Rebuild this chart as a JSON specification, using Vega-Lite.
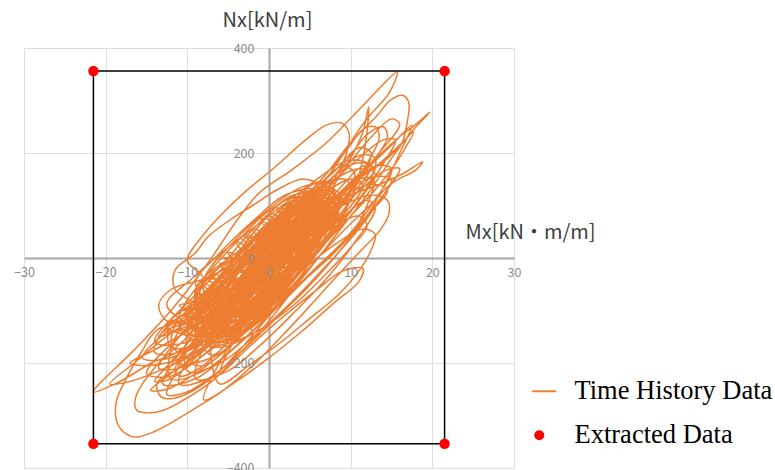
{
"$schema": "https://vega.github.io/schema/vega-lite/v6.json",
"width": 490,
"height": 420,
"autosize": {"type": "none"},
"padding": {"left": 24, "top": 48, "right": 261, "bottom": 2},
"background": "white",
"config": {"view": {"stroke": null},
"legend": {"orient": "none", "legendX": 502, "legendY": 330, "title": null, "labelFont": "Liberation Serif", "labelFontSize": 26.5, "labelColor": "black", "labelLimit": 0, "symbolSize": 100, "labelOffset": 22, "rowPadding": 17, "padding": 0, "symbolStrokeWidth": 0, "symbolOpacity": 1}},
"datasets": {
"box": [{"x": -21.5, "y": -354, "x2": 21.5, "y2": 356}],
"ex": [{"x": -21.5, "y": 356, "series": "Extracted Data"}, {"x": 21.5, "y": 356, "series": "Extracted Data"}, {"x": -21.5, "y": -354, "series": "Extracted Data"}, {"x": 21.5, "y": -354, "series": "Extracted Data"}],
"th": [
{"x":0,"y":10},{"x":3,"y":60},{"x":5,"y":100},{"x":3,"y":110},{"x":0,"y":70},{"x":-3,"y":20},{"x":-6,"y":-40},{"x":-8,"y":-90},{"x":-9,"y":-130},{"x":-7,"y":-135},{"x":-4,"y":-90},{"x":-1,"y":-40},{"x":2,"y":20},{"x":5,"y":70},{"x":7,"y":110},{"x":8,"y":140},{"x":6,"y":145},{"x":3,"y":110},{"x":0,"y":60},{"x":-3,"y":0},{"x":-6,"y":-60},{"x":-9,"y":-120},
{"x":-9,"y":-140},{"x":-5,"y":-110},{"x":0,"y":-30},{"x":5,"y":60},{"x":8,"y":130},{"x":6,"y":135},{"x":1,"y":80},{"x":-4,"y":0},{"x":-8,"y":-80},
{"x":-10.4,"y":-170},{"x":-14.4,"y":-200},{"x":-18.6,"y":-238},{"x":-21.5,"y":-255},{"x":-16.5,"y":-175},{"x":-12,"y":-100},{"x":-7.5,"y":-10},{"x":-4,"y":70},{"x":-1.2,"y":124},{"x":2.8,"y":168},{"x":7,"y":219},{"x":11,"y":282},{"x":15.7,"y":354},{"x":14.7,"y":314},{"x":12.6,"y":276},{"x":11,"y":244},{"x":9,"y":195},{"x":6.5,"y":140},{"x":4,"y":90},{"x":1,"y":30},{"x":-2,"y":-30},{"x":-5,"y":-80},
{"x":-10,"y":-120},{"x":-6,"y":-150},{"x":-9.5,"y":-90},{"x":-3,"y":-125},{"x":-8,"y":-50},{"x":-1,"y":-95},{"x":-6,"y":-10},{"x":1,"y":-60},{"x":-4,"y":30},{"x":3,"y":-25},{"x":-2,"y":55},{"x":5,"y":10},{"x":0,"y":85},{"x":6.5,"y":40},{"x":2,"y":105},{"x":8,"y":75},{"x":4.5,"y":125},{"x":8.5,"y":110},{"x":7,"y":135},
{"x":-6,"y":-150},{"x":-2,"y":-115},{"x":2,"y":-50},{"x":5,"y":20},{"x":7,"y":80},{"x":5.5,"y":100},{"x":2,"y":60},{"x":-1.5,"y":0},{"x":-4.5,"y":-60},{"x":-7,"y":-120},
{"x":-10,"y":-120},{"x":-6,"y":-100},{"x":-1,"y":-40},{"x":4,"y":40},{"x":7,"y":100},{"x":5,"y":110},{"x":0,"y":60},{"x":-5,"y":-10},{"x":-9,"y":-70},
{"x":-14,"y":-160},{"x":-10,"y":-160},{"x":-5,"y":-100},{"x":0,"y":-30},{"x":5,"y":40},{"x":9.5,"y":110},{"x":12.5,"y":175},{"x":10.5,"y":180},{"x":6,"y":130},{"x":1,"y":60},{"x":-4,"y":-10},{"x":-9,"y":-80},{"x":-12.5,"y":-130},
{"x":-7,"y":-150},{"x":-3,"y":-120},{"x":0,"y":-60},{"x":3,"y":0},{"x":6,"y":80},{"x":4,"y":100},{"x":0,"y":40},{"x":-3,"y":-30},{"x":-6,"y":-100},
{"x":-7.5,"y":-140},{"x":-4,"y":-120},{"x":-0.5,"y":-70},{"x":2.5,"y":-10},{"x":5,"y":50},{"x":6,"y":90},{"x":3.5,"y":90},{"x":0.5,"y":40},{"x":-2.5,"y":-20},{"x":-5.5,"y":-90},
{"x":-7,"y":-155},{"x":-3,"y":-125},{"x":1,"y":-60},{"x":5,"y":20},{"x":8.5,"y":90},{"x":7,"y":120},{"x":3,"y":90},{"x":-2,"y":20},{"x":-6,"y":-60},{"x":-9,"y":-110},
{"x":-13.7,"y":-137},{"x":-15.7,"y":-181},{"x":-17.4,"y":-227},{"x":-18.7,"y":-274},{"x":-18.6,"y":-314},{"x":-17.5,"y":-335},{"x":-16.2,"y":-341},{"x":-14.4,"y":-333},{"x":-12,"y":-314},{"x":-8.8,"y":-284},{"x":-5.5,"y":-251},{"x":-2,"y":-205},{"x":1.5,"y":-150},{"x":4.8,"y":-95},{"x":8,"y":-40},{"x":11,"y":10},{"x":13.6,"y":53},{"x":14.7,"y":85},{"x":14.5,"y":110},{"x":12.5,"y":120},{"x":9,"y":100},{"x":5,"y":60},{"x":1,"y":10},{"x":-3,"y":-40},{"x":-6,"y":-90},
{"x":-5,"y":-130},{"x":-1.5,"y":-100},{"x":1.5,"y":-45},{"x":4.5,"y":15},{"x":6.5,"y":75},{"x":5,"y":90},{"x":2,"y":45},{"x":-1,"y":-15},{"x":-4,"y":-75},{"x":-6.5,"y":-130},
{"x":8.5,"y":95},{"x":3,"y":115},{"x":7.5,"y":55},{"x":1,"y":95},{"x":6,"y":20},{"x":-1,"y":70},{"x":4.5,"y":-5},{"x":-3,"y":45},{"x":2.5,"y":-40},{"x":-5,"y":10},{"x":0.5,"y":-80},{"x":-7,"y":-30},{"x":-2,"y":-110},{"x":-8.5,"y":-70},{"x":-5,"y":-140},{"x":-10,"y":-110},{"x":-8,"y":-150},
{"x":-8,"y":-130},{"x":-4,"y":-110},{"x":-1,"y":-60},{"x":2,"y":0},{"x":5,"y":60},{"x":6.5,"y":100},{"x":4,"y":95},{"x":0,"y":40},{"x":-3.5,"y":-20},{"x":-6.5,"y":-80},
{"x":-10.5,"y":-100},{"x":-7,"y":-90},{"x":-3,"y":-40},{"x":2,"y":30},{"x":6,"y":100},{"x":7.5,"y":140},{"x":4,"y":135},{"x":-1,"y":80},{"x":-5,"y":20},{"x":-8,"y":-40},
{"x":-10,"y":-215},{"x":-6,"y":-200},{"x":-1.5,"y":-145},{"x":3,"y":-80},{"x":7,"y":-15},{"x":11,"y":55},{"x":14,"y":120},{"x":16,"y":170},{"x":14,"y":165},{"x":10.5,"y":120},{"x":6,"y":60},{"x":1.5,"y":0},{"x":-3,"y":-70},{"x":-7,"y":-140},
{"x":-12,"y":-120},{"x":-12,"y":-170},{"x":-8,"y":-160},{"x":-3,"y":-100},{"x":2,"y":-30},{"x":7,"y":40},{"x":11,"y":110},{"x":13,"y":160},{"x":11,"y":170},{"x":6,"y":130},{"x":1,"y":70},{"x":-4,"y":10},{"x":-9,"y":-60},
{"x":-8,"y":-120},{"x":-4.5,"y":-105},{"x":-1.5,"y":-55},{"x":1.5,"y":5},{"x":4,"y":60},{"x":5,"y":100},{"x":2.5,"y":95},{"x":-0.5,"y":45},{"x":-3.5,"y":-15},{"x":-6.5,"y":-75},
{"x":-6,"y":-160},{"x":-2,"y":-130},{"x":1,"y":-80},{"x":4,"y":-20},{"x":6,"y":40},{"x":7,"y":90},{"x":5,"y":80},{"x":2,"y":30},{"x":-1.5,"y":-30},{"x":-4.5,"y":-90},
{"x":-8,"y":-145},{"x":-4,"y":-130},{"x":0,"y":-80},{"x":4,"y":-10},{"x":7,"y":60},{"x":9,"y":110},{"x":8,"y":130},{"x":4,"y":110},{"x":0,"y":50},{"x":-4,"y":-20},{"x":-7.5,"y":-90},
{"x":-10,"y":-150},{"x":-13.5,"y":-200},{"x":-16.3,"y":-264},{"x":-16.2,"y":-290},{"x":-14.9,"y":-295},{"x":-12.9,"y":-290},{"x":-10.4,"y":-270},{"x":-7,"y":-235},{"x":-3.5,"y":-180},{"x":0,"y":-120},{"x":3,"y":-60},{"x":6,"y":0},{"x":9,"y":60},{"x":12,"y":120},{"x":15.1,"y":192},{"x":16.3,"y":219},{"x":16.9,"y":257},{"x":17.1,"y":297},{"x":16.3,"y":310},{"x":14.9,"y":301},{"x":13.1,"y":269},{"x":10,"y":220},{"x":7,"y":160},{"x":4,"y":110},{"x":1,"y":60},{"x":-2,"y":10},{"x":-5,"y":-40},
{"x":-9,"y":-140},{"x":-4.5,"y":-135},{"x":-9.5,"y":-105},{"x":-2,"y":-110},{"x":-7.5,"y":-65},{"x":0,"y":-75},{"x":-5,"y":-25},{"x":2,"y":-40},{"x":-3,"y":15},{"x":4,"y":0},{"x":-1,"y":50},{"x":6,"y":30},{"x":1,"y":90},{"x":7.5,"y":60},{"x":3,"y":110},{"x":8.5,"y":95},{"x":5.5,"y":130},
{"x":-6.5,"y":-160},{"x":-3,"y":-135},{"x":0.5,"y":-80},{"x":3.5,"y":-20},{"x":6,"y":40},{"x":7.5,"y":95},{"x":5.5,"y":105},{"x":2.5,"y":60},{"x":-1,"y":0},{"x":-4,"y":-60},{"x":-6.5,"y":-115},
{"x":-7.5,"y":-110},{"x":-4,"y":-100},{"x":-1,"y":-50},{"x":2,"y":10},{"x":4.5,"y":70},{"x":5,"y":110},{"x":2,"y":100},{"x":-1,"y":50},{"x":-4,"y":-10},{"x":-6.5,"y":-60},
{"x":-15.5,"y":-190},{"x":-12,"y":-190},{"x":-7.5,"y":-145},{"x":-3,"y":-85},{"x":1.5,"y":-20},{"x":6,"y":50},{"x":10,"y":125},{"x":12.5,"y":200},{"x":11,"y":210},{"x":8,"y":165},{"x":4,"y":110},{"x":-0.5,"y":45},{"x":-5,"y":-25},{"x":-10,"y":-100},{"x":-13.5,"y":-150},
{"x":-10,"y":-130},{"x":-6,"y":-115},{"x":-2,"y":-60},{"x":2,"y":10},{"x":5,"y":80},{"x":6,"y":120},{"x":3,"y":120},{"x":-1,"y":70},{"x":-5,"y":0},{"x":-8.5,"y":-70},
{"x":-4.5,"y":-120},{"x":-1,"y":-90},{"x":2,"y":-35},{"x":5,"y":25},{"x":6.5,"y":60},{"x":5,"y":75},{"x":2,"y":35},{"x":-1,"y":-25},{"x":-3.5,"y":-80},
{"x":-13,"y":-140},{"x":-9,"y":-130},{"x":-4,"y":-80},{"x":1,"y":-10},{"x":6,"y":60},{"x":10,"y":130},{"x":12,"y":180},{"x":9.5,"y":185},{"x":5,"y":140},{"x":0,"y":80},{"x":-5,"y":20},{"x":-9.5,"y":-40},{"x":-12.5,"y":-90},
{"x":-5,"y":-150},{"x":-1.5,"y":-120},{"x":2,"y":-60},{"x":5,"y":0},{"x":7,"y":50},{"x":6,"y":70},{"x":3,"y":30},{"x":-0.5,"y":-30},{"x":-3.5,"y":-90},
{"x":-7,"y":-130},{"x":-3.5,"y":-115},{"x":0,"y":-65},{"x":3,"y":-5},{"x":5.5,"y":55},{"x":6.5,"y":95},{"x":4,"y":100},{"x":1,"y":55},{"x":-2,"y":-5},{"x":-5,"y":-70},
{"x":-9,"y":-90},{"x":-5,"y":-80},{"x":-1,"y":-20},{"x":3,"y":50},{"x":6.5,"y":110},{"x":4.5,"y":125},{"x":0,"y":90},{"x":-4,"y":30},{"x":-7.5,"y":-30},{"x":-10,"y":-80},
{"x":-11,"y":-110},{"x":-12,"y":-160},{"x":-11,"y":-180},{"x":-8,"y":-160},{"x":-5,"y":-110},{"x":-2,"y":-50},{"x":1,"y":10},{"x":5,"y":70},{"x":9,"y":130},{"x":13.1,"y":190},{"x":15.9,"y":230},{"x":18,"y":255},{"x":19.7,"y":278},{"x":18,"y":250},{"x":15.9,"y":211},{"x":14.3,"y":187},{"x":11,"y":150},{"x":8,"y":110},{"x":5,"y":60},{"x":2,"y":10},{"x":-1,"y":-40},{"x":-4,"y":-100},
{"x":-8.5,"y":-135},{"x":-5,"y":-125},{"x":-2,"y":-80},{"x":1,"y":-20},{"x":4,"y":45},{"x":5.5,"y":85},{"x":3,"y":85},{"x":0,"y":35},{"x":-3,"y":-25},{"x":-6,"y":-85},
{"x":-13,"y":-240},{"x":-9,"y":-230},{"x":-4.5,"y":-175},{"x":0,"y":-110},{"x":4.5,"y":-40},{"x":9,"y":30},{"x":12.5,"y":100},{"x":15,"y":170},{"x":13,"y":175},{"x":9.5,"y":130},{"x":5.5,"y":70},{"x":1,"y":5},{"x":-4,"y":-70},{"x":-8.5,"y":-145},{"x":-11.5,"y":-200},
{"x":-8,"y":-150},{"x":-5,"y":-140},{"x":-2,"y":-90},{"x":1,"y":-30},{"x":3.5,"y":30},{"x":5.5,"y":90},{"x":3.5,"y":100},{"x":0.5,"y":60},{"x":-2.5,"y":0},{"x":-5.5,"y":-70},
{"x":-8,"y":-130},{"x":-3,"y":-100},{"x":2,"y":-30},{"x":6,"y":40},{"x":8.5,"y":110},{"x":7,"y":130},{"x":3,"y":100},{"x":-1.5,"y":40},{"x":-5.5,"y":-30},{"x":-8.5,"y":-100},
{"x":-5.5,"y":-145},{"x":-2,"y":-120},{"x":1.5,"y":-65},{"x":4.5,"y":-5},{"x":7,"y":55},{"x":7.5,"y":90},{"x":5,"y":85},{"x":2,"y":40},{"x":-1.5,"y":-20},{"x":-4.5,"y":-85},
{"x":-11,"y":-200},{"x":-7,"y":-190},{"x":-2,"y":-130},{"x":3,"y":-60},{"x":8,"y":10},{"x":12,"y":80},{"x":14.5,"y":130},{"x":12.5,"y":140},{"x":8,"y":110},{"x":3,"y":60},{"x":-2,"y":0},{"x":-7,"y":-70},{"x":-10,"y":-130},
{"x":-6.5,"y":-125},{"x":-3,"y":-95},{"x":0.5,"y":-40},{"x":3.5,"y":20},{"x":6,"y":80},{"x":4.5,"y":95},{"x":1,"y":50},{"x":-2,"y":-10},{"x":-5,"y":-70},
{"x":-11,"y":-90},{"x":-7,"y":-100},{"x":-2,"y":-50},{"x":3,"y":20},{"x":7.5,"y":90},{"x":10.5,"y":160},{"x":9,"y":175},{"x":5.5,"y":130},{"x":1,"y":70},{"x":-3.5,"y":10},{"x":-8,"y":-50},
{"x":-6,"y":-110},{"x":-2.5,"y":-85},{"x":0.5,"y":-35},{"x":3.5,"y":25},{"x":5.5,"y":75},{"x":4,"y":90},{"x":1,"y":50},{"x":-2,"y":-10},{"x":-5,"y":-65},
{"x":-7,"y":-140},{"x":-2,"y":-110},{"x":3,"y":-40},{"x":6.5,"y":30},{"x":8,"y":70},{"x":6,"y":90},{"x":2,"y":50},{"x":-2,"y":-10},{"x":-5,"y":-70},
{"x":-7,"y":-150},{"x":-10,"y":-200},{"x":-13.7,"y":-238},{"x":-13.2,"y":-265},{"x":-11.6,"y":-267},{"x":-9,"y":-250},{"x":-6,"y":-215},{"x":-3,"y":-165},{"x":0,"y":-110},{"x":3,"y":-55},{"x":6,"y":0},{"x":9,"y":50},{"x":12,"y":95},{"x":15.1,"y":143},{"x":18,"y":168},{"x":18.8,"y":183},{"x":16.3,"y":160},{"x":13.5,"y":140},{"x":10,"y":120},{"x":6,"y":80},{"x":2,"y":30},{"x":-2,"y":-20},{"x":-6,"y":-70},
{"x":-7.5,"y":-155},{"x":-4,"y":-135},{"x":-0.5,"y":-85},{"x":2.5,"y":-25},{"x":5.5,"y":35},{"x":7,"y":80},{"x":5,"y":90},{"x":2,"y":50},{"x":-1.5,"y":-10},{"x":-4.5,"y":-75},{"x":-7,"y":-125},
{"x":-7,"y":-140},{"x":-3.5,"y":-125},{"x":0,"y":-75},{"x":3,"y":-15},{"x":5.5,"y":45},{"x":6.5,"y":85},{"x":4,"y":75},{"x":1,"y":25},{"x":-2.5,"y":-35},{"x":-5.5,"y":-95},
{"x":-9,"y":-230},{"x":-5,"y":-215},{"x":-1,"y":-165},{"x":3,"y":-105},{"x":7,"y":-40},{"x":10.5,"y":30},{"x":13,"y":95},{"x":12,"y":110},{"x":8.5,"y":70},{"x":4.5,"y":10},{"x":0.5,"y":-55},{"x":-3.5,"y":-125},{"x":-7,"y":-185},
{"x":-9.5,"y":-110},{"x":-6,"y":-105},{"x":-2,"y":-50},{"x":2,"y":20},{"x":5,"y":90},{"x":5.5,"y":130},{"x":2,"y":120},{"x":-2,"y":70},{"x":-6,"y":10},{"x":-9,"y":-50},
{"x":-4,"y":-110},{"x":-0.5,"y":-75},{"x":2.5,"y":-20},{"x":5,"y":40},{"x":6.5,"y":85},{"x":4.5,"y":95},{"x":1.5,"y":55},{"x":-1.5,"y":-5},{"x":-4.5,"y":-60},
{"x":-12.5,"y":-130},{"x":-14,"y":-180},{"x":-10,"y":-175},{"x":-5,"y":-120},{"x":0,"y":-50},{"x":5,"y":20},{"x":9,"y":80},{"x":11.5,"y":140},{"x":10,"y":150},{"x":5.5,"y":110},{"x":0.5,"y":50},{"x":-4.5,"y":-10},{"x":-9,"y":-70},
{"x":-4,"y":-140},{"x":-0.5,"y":-100},{"x":3,"y":-40},{"x":5.5,"y":20},{"x":7.5,"y":70},{"x":6,"y":90},{"x":2.5,"y":50},{"x":-1,"y":-10},{"x":-4,"y":-70},{"x":-6.5,"y":-120},
{"x":-8,"y":-100},{"x":-4.5,"y":-95},{"x":-1.5,"y":-45},{"x":1.5,"y":15},{"x":4,"y":70},{"x":4.5,"y":110},{"x":2,"y":110},{"x":-1,"y":65},{"x":-4,"y":5},{"x":-6.5,"y":-50},
{"x":-10,"y":-140},{"x":-6,"y":-140},{"x":-1,"y":-90},{"x":3,"y":-20},{"x":7,"y":50},{"x":9.5,"y":100},{"x":8,"y":115},{"x":4,"y":80},{"x":0,"y":30},{"x":-4,"y":-30},{"x":-7.5,"y":-90},
{"x":-9,"y":-110},{"x":-13,"y":-155},{"x":-16.5,"y":-200},{"x":-19.5,"y":-240},{"x":-17,"y":-235},{"x":-13.5,"y":-215},{"x":-10,"y":-190},{"x":-6.5,"y":-155},{"x":-3,"y":-110},{"x":0,"y":-60},{"x":3,"y":-10},{"x":6,"y":40},{"x":8.5,"y":90},{"x":10,"y":130},{"x":9.4,"y":150},{"x":7,"y":140},{"x":4,"y":100},{"x":1,"y":50},{"x":-2,"y":0},{"x":-5,"y":-50},
{"x":-6,"y":-135},{"x":-2.5,"y":-110},{"x":1,"y":-55},{"x":4,"y":5},{"x":6.5,"y":65},{"x":6,"y":95},{"x":3.5,"y":75},{"x":0.5,"y":25},{"x":-2.5,"y":-35},{"x":-5,"y":-95},
{"x":-8.5,"y":-120},{"x":-5,"y":-115},{"x":-2,"y":-70},{"x":1,"y":-10},{"x":4,"y":50},{"x":6,"y":100},{"x":3.5,"y":105},{"x":0,"y":60},{"x":-3,"y":0},{"x":-6,"y":-60},
{"x":-6,"y":-130},{"x":-2,"y":-90},{"x":2,"y":-30},{"x":5,"y":40},{"x":7,"y":100},{"x":5,"y":110},{"x":1,"y":60},{"x":-3,"y":0},{"x":-6.5,"y":-60},{"x":-9.5,"y":-100},
{"x":-12,"y":-175},{"x":-12,"y":-230},{"x":-8,"y":-215},{"x":-3.5,"y":-160},{"x":0.5,"y":-100},{"x":5,"y":-30},{"x":9,"y":30},{"x":13,"y":100},{"x":15,"y":150},{"x":13,"y":155},{"x":9,"y":125},{"x":4,"y":80},{"x":-1,"y":20},{"x":-6,"y":-50},{"x":-10,"y":-120},
{"x":-7,"y":-145},{"x":-3,"y":-125},{"x":0.5,"y":-75},{"x":3.5,"y":-15},{"x":6,"y":45},{"x":7,"y":70},{"x":5,"y":70},{"x":2,"y":25},{"x":-1.5,"y":-35},{"x":-4.5,"y":-95},
{"x":-8.5,"y":-150},{"x":-4,"y":-125},{"x":0.5,"y":-60},{"x":4.5,"y":10},{"x":7.5,"y":80},{"x":8,"y":120},{"x":5,"y":115},{"x":0.5,"y":70},{"x":-3.5,"y":10},{"x":-7,"y":-50},{"x":-10,"y":-100},
{"x":-8,"y":-40},{"x":-10,"y":-5},{"x":-8.5,"y":35},{"x":-6,"y":80},{"x":-3,"y":125},{"x":0.5,"y":170},{"x":4.5,"y":225},{"x":7,"y":253},{"x":8.9,"y":257},{"x":9.8,"y":238},{"x":9.5,"y":200},{"x":8,"y":150},{"x":6,"y":100},{"x":4,"y":50},{"x":1,"y":0},{"x":-2,"y":-50},{"x":-5,"y":-100},{"x":-7,"y":-140},
{"x":-5,"y":-155},{"x":-1.5,"y":-125},{"x":2,"y":-70},{"x":5,"y":-10},{"x":7.5,"y":50},{"x":8,"y":85},{"x":6,"y":80},{"x":3,"y":35},{"x":-0.5,"y":-25},{"x":-3.5,"y":-90},
{"x":-5.5,"y":-110},{"x":-2,"y":-80},{"x":1,"y":-30},{"x":4,"y":30},{"x":6,"y":70},{"x":4,"y":80},{"x":1,"y":40},{"x":-2,"y":-20},{"x":-4.5,"y":-80},
{"x":-7,"y":-120},{"x":-3,"y":-80},{"x":1,"y":-20},{"x":4,"y":40},{"x":6,"y":90},{"x":4,"y":100},{"x":0,"y":50},{"x":-3.5,"y":-10},{"x":-6.5,"y":-70},
{"x":-12,"y":-170},{"x":-13.5,"y":-210},{"x":-10,"y":-205},{"x":-5.5,"y":-150},{"x":-1,"y":-90},{"x":3.5,"y":-20},{"x":8,"y":50},{"x":11.5,"y":120},{"x":14,"y":180},{"x":15.5,"y":225},{"x":14,"y":225},{"x":11,"y":190},{"x":7.5,"y":140},{"x":3.5,"y":80},{"x":-1,"y":20},{"x":-5.5,"y":-50},{"x":-9.5,"y":-120},
{"x":-8,"y":-100},{"x":-11.5,"y":-60},{"x":-11.5,"y":-23},{"x":-9,"y":10},{"x":-7.5,"y":40},{"x":-5,"y":70},{"x":-2,"y":100},{"x":1,"y":130},{"x":4,"y":150},{"x":6,"y":140},{"x":5,"y":110},{"x":2,"y":70},{"x":-1,"y":30},{"x":-4,"y":-20},{"x":-7,"y":-70},
{"x":-9,"y":-130},{"x":-4.5,"y":-115},{"x":-0.5,"y":-60},{"x":3.5,"y":0},{"x":6.5,"y":60},{"x":8,"y":100},{"x":6,"y":105},{"x":2,"y":60},{"x":-2,"y":0},{"x":-5.5,"y":-60},{"x":-8.5,"y":-110},
{"x":-9,"y":-180},{"x":-12,"y":-220},{"x":-14.5,"y":-252},{"x":-12.5,"y":-250},{"x":-9.5,"y":-225},{"x":-6,"y":-185},{"x":-2.5,"y":-135},{"x":1,"y":-80},{"x":4,"y":-25},{"x":7,"y":30},{"x":9,"y":80},{"x":10.5,"y":130},{"x":11.5,"y":190},{"x":12,"y":240},{"x":12.2,"y":288},{"x":11.5,"y":240},{"x":10,"y":190},{"x":8,"y":140},{"x":5,"y":80},{"x":2,"y":20},{"x":-1,"y":-40},{"x":-4,"y":-100},
{"x":-8.5,"y":-160},{"x":-11,"y":-240},{"x":-7.5,"y":-230},{"x":-3.5,"y":-180},{"x":0.5,"y":-120},{"x":4.5,"y":-60},{"x":8.5,"y":10},{"x":12,"y":80},{"x":14.5,"y":150},{"x":16,"y":200},{"x":17.5,"y":253},{"x":15,"y":215},{"x":12,"y":170},{"x":8.5,"y":120},{"x":4.5,"y":60},{"x":0,"y":0},{"x":-4.5,"y":-70},{"x":-8.5,"y":-140},
{"x":-6,"y":-140},{"x":-2.5,"y":-115},{"x":1,"y":-55},{"x":4,"y":5},{"x":6.5,"y":65},{"x":7,"y":105},{"x":4.5,"y":100},{"x":1.5,"y":55},{"x":-1.5,"y":-5},{"x":-4.5,"y":-70},{"x":-7,"y":-120},
{"x":-6,"y":-145},{"x":-1,"y":-110},{"x":3,"y":-50},{"x":6.5,"y":10},{"x":9,"y":70},{"x":8,"y":90},{"x":5,"y":60},{"x":1,"y":10},{"x":-3,"y":-50},
{"x":-7,"y":-100},{"x":-11,"y":-150},{"x":-15,"y":-220},{"x":-12,"y":-225},{"x":-8,"y":-185},{"x":-3.5,"y":-130},{"x":1,"y":-60},{"x":5.5,"y":10},{"x":9.5,"y":80},{"x":12.5,"y":150},{"x":13,"y":190},{"x":11,"y":195},{"x":7.5,"y":150},{"x":3,"y":90},{"x":-2,"y":20},{"x":-7,"y":-60},{"x":-11,"y":-130},
{"x":-10,"y":-150},{"x":-6,"y":-170},{"x":-1.5,"y":-140},{"x":3,"y":-90},{"x":7,"y":-30},{"x":10,"y":20},{"x":12,"y":60},{"x":11,"y":80},{"x":8,"y":60},{"x":4,"y":20},{"x":0,"y":-30},{"x":-4,"y":-80},{"x":-8,"y":-130},
{"x":-11.5,"y":-220},{"x":-12.5,"y":-260},{"x":-10,"y":-255},{"x":-6.5,"y":-220},{"x":-2.5,"y":-165},{"x":1.5,"y":-105},{"x":5.5,"y":-40},{"x":9.5,"y":30},{"x":12,"y":100},{"x":12.8,"y":150},{"x":11,"y":150},{"x":8,"y":110},{"x":4,"y":50},{"x":-0.5,"y":-20},{"x":-5,"y":-90},{"x":-9,"y":-160},
{"x":-7,"y":-160},{"x":-9.5,"y":-200},{"x":-8,"y":-205},{"x":-5,"y":-170},{"x":-2,"y":-120},{"x":1,"y":-70},{"x":4,"y":-20},{"x":7,"y":30},{"x":10,"y":80},{"x":13,"y":130},{"x":15.5,"y":180},{"x":17.7,"y":240},{"x":16,"y":215},{"x":13.5,"y":180},{"x":11,"y":150},{"x":8,"y":110},{"x":5,"y":60},{"x":2,"y":10},{"x":-1,"y":-40},
{"x":-3,"y":-100},{"x":1,"y":-40},{"x":5,"y":30},{"x":9,"y":110},{"x":12,"y":180},{"x":13.5,"y":230},{"x":13,"y":250},{"x":11.5,"y":245},{"x":9.5,"y":205},{"x":7,"y":160},{"x":4,"y":110},{"x":0.5,"y":50},{"x":-3,"y":-10},{"x":-6.5,"y":-70},
{"x":-7,"y":-200},{"x":-6,"y":-240},{"x":-2.5,"y":-205},{"x":1.5,"y":-160},{"x":5,"y":-115},{"x":8.5,"y":-70},{"x":11,"y":-25},{"x":12.5,"y":15},{"x":13,"y":45},{"x":11.5,"y":55},{"x":8,"y":25},{"x":4,"y":-25},{"x":0,"y":-85},{"x":-4,"y":-150},
{"x":-6,"y":-100},{"x":-10,"y":-140},{"x":-14,"y":-175},{"x":-17,"y":-200},{"x":-15,"y":-205},{"x":-11.5,"y":-195},{"x":-7.5,"y":-165},{"x":-3.5,"y":-120},{"x":0,"y":-70},{"x":3.5,"y":-10},
{"x":0,"y":20},{"x":-4,"y":-10},{"x":-8,"y":-40},{"x":-12,"y":-60},{"x":-13.5,"y":-90},{"x":-12.5,"y":-120},{"x":-9.5,"y":-120},{"x":-6,"y":-90},{"x":-2.5,"y":-40},{"x":1,"y":20},{"x":4,"y":70},
{"x":-8,"y":-270},{"x":-4,"y":-235},{"x":0,"y":-190},{"x":4,"y":-140},{"x":8,"y":-85},{"x":11,"y":-45},{"x":11.5,"y":-20},{"x":9,"y":-25},{"x":5.5,"y":-65},{"x":1.5,"y":-115},{"x":-2.5,"y":-170},{"x":-6,"y":-220},{"x":-4,"y":-150},{"x":0,"y":-60},{"x":2,"y":0},
{"x":-8,"y":-155},{"x":-3.5,"y":-150},{"x":-9,"y":-120},{"x":-1.5,"y":-120},{"x":-8.5,"y":-85},{"x":1,"y":-80},{"x":-6.5,"y":-40},{"x":3,"y":-45},{"x":-4.5,"y":0},{"x":4.5,"y":-10},{"x":-2.5,"y":40},{"x":6,"y":20},{"x":0,"y":70},{"x":7.5,"y":55},{"x":2.5,"y":100},{"x":8.5,"y":90},{"x":5,"y":125},
{"x":-2,"y":-60},{"x":3,"y":10},{"x":8,"y":90},{"x":12,"y":170},{"x":14.5,"y":230},{"x":14,"y":250},{"x":12,"y":235},{"x":9.5,"y":185},{"x":6,"y":120},{"x":2,"y":50},{"x":-2,"y":-20},
{"x":7.5,"y":120},{"x":4,"y":125},{"x":8,"y":80},{"x":1.5,"y":100},{"x":6.5,"y":45},{"x":-1,"y":75},{"x":5,"y":10},{"x":-3.5,"y":40},{"x":3,"y":-30},{"x":-5.5,"y":0},{"x":1,"y":-65},{"x":-7.5,"y":-40},{"x":-1,"y":-100},{"x":-9,"y":-80},{"x":-4,"y":-130},{"x":-10,"y":-125},{"x":-6.5,"y":-160},
{"x":-10,"y":-170},{"x":-13,"y":-215},{"x":-14,"y":-235},{"x":-12,"y":-230},{"x":-9,"y":-190},{"x":-5.5,"y":-130},{"x":-2,"y":-60},{"x":2,"y":10},
{"x":5,"y":40},{"x":9.5,"y":120},{"x":13.5,"y":200},{"x":16,"y":255},{"x":15,"y":265},{"x":12.5,"y":230},{"x":9,"y":165},{"x":5,"y":90},{"x":1,"y":20},
{"x":-7,"y":-165},{"x":-2,"y":-140},{"x":-6,"y":-105},{"x":0.5,"y":-100},{"x":-5.5,"y":-60},{"x":2.5,"y":-60},{"x":-3,"y":-15},{"x":4,"y":-20},{"x":-1.5,"y":20},{"x":5.5,"y":15},{"x":0.5,"y":60},{"x":7,"y":50},{"x":3,"y":90},{"x":8,"y":80},{"x":5.5,"y":115},
{"x":4,"y":0},{"x":8,"y":70},{"x":11,"y":130},{"x":13,"y":170},{"x":11.5,"y":175},{"x":8.5,"y":130},{"x":5,"y":70},{"x":1,"y":0},{"x":-3,"y":-70},
{"x":-8,"y":-160},{"x":-11.5,"y":-210},{"x":-11,"y":-225},{"x":-8.5,"y":-210},{"x":-5,"y":-160},{"x":-1.5,"y":-95},{"x":2,"y":-30}
]
},
"resolve": {"axis": {"x": "independent", "y": "independent"}},
"layer": [
{
"data": {"name": "th"},
"mark": {"type": "line", "color": "#ED7D31", "strokeWidth": 1.5, "interpolate": "catmull-rom"},
"encoding": {
"x": {"field": "x", "type": "quantitative", "scale": {"domain": [-30, 30], "nice": false, "zero": false},
"axis": {"orient": "bottom", "offset": -210, "values": [-30, -20, -10, 0, 10, 20, 30], "grid": true, "gridColor": "#DEDEDE", "gridWidth": 1, "domain": true, "domainColor": "#A6A6A6", "domainWidth": 2, "ticks": false, "labels": false, "title": null, "zindex": 0}},
"y": {"field": "y", "type": "quantitative", "scale": {"domain": [-400, 400], "nice": false, "zero": false},
"axis": {"orient": "left", "offset": -245, "values": [-400, -200, 0, 200, 400], "grid": true, "gridColor": "#DEDEDE", "gridWidth": 1, "domain": true, "domainColor": "#A6A6A6", "domainWidth": 2, "ticks": false, "labels": false, "title": null, "zindex": 0}},
"order": {"value": null}
}
},
{
"data": {"name": "box"},
"mark": {"type": "rect", "filled": false, "color": "black", "strokeWidth": 1.5},
"encoding": {
"x": {"field": "x", "type": "quantitative", "scale": {"domain": [-30, 30], "nice": false, "zero": false}, "axis": null},
"x2": {"field": "x2"},
"y": {"field": "y", "type": "quantitative", "scale": {"domain": [-400, 400], "nice": false, "zero": false}, "axis": null},
"y2": {"field": "y2"}
}
},
{
"data": {"name": "ex"},
"mark": {"type": "point", "filled": true, "size": 110, "opacity": 1},
"encoding": {
"x": {"field": "x", "type": "quantitative", "scale": {"domain": [-30, 30], "nice": false, "zero": false},
"axis": {"orient": "bottom", "offset": -210, "values": [-30, -20, -10, 0, 10, 20, 30], "grid": false, "domain": false, "ticks": false, "labelColor": "#8C8C8C", "labelFont": "Noto Sans CJK JP", "labelFontSize": 12.5, "labelPadding": 8, "labelFlush": false, "labelOverlap": false, "title": "Mx[kN・m/m]", "titleFont": "Noto Sans CJK JP", "titleFontSize": 20, "titleFontWeight": "normal", "titleColor": "#404040", "titleX": 506, "titleY": -26, "titleAlign": "center", "titleBaseline": "middle", "zindex": 1}},
"y": {"field": "y", "type": "quantitative", "scale": {"domain": [-400, 400], "nice": false, "zero": false},
"axis": {"orient": "left", "offset": -245, "values": [-400, -200, 0, 200, 400], "grid": false, "domain": false, "ticks": false, "labelColor": "#8C8C8C", "labelFont": "Noto Sans CJK JP", "labelFontSize": 12.5, "labelPadding": 15, "labelFlush": false, "labelOverlap": false, "title": "Nx[kN/m]", "titleFont": "Noto Sans CJK JP", "titleFontSize": 20, "titleFontWeight": "normal", "titleColor": "#404040", "titleAngle": 0, "titleX": -2, "titleY": -28, "titleAlign": "center", "titleBaseline": "middle", "zindex": 1}},
"color": {"field": "series", "type": "nominal", "scale": {"domain": ["Time History Data", "Extracted Data"], "range": ["#ED7D31", "#FF0000"]}, "legend": {"title": null}},
"shape": {"field": "series", "type": "nominal", "scale": {"domain": ["Time History Data", "Extracted Data"], "range": ["M-1.4,-0.2H3.4V0.2H-1.4Z", "circle"]}, "legend": {"title": null}}
}
}
]
}
